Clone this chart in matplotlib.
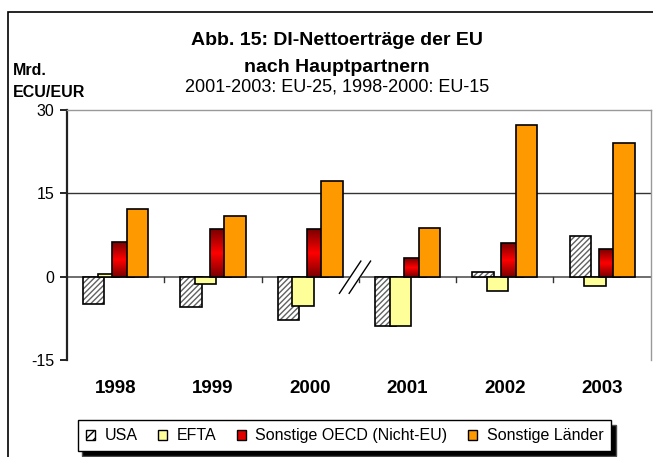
import numpy as np
import matplotlib.pyplot as plt
from matplotlib.patches import Rectangle
from matplotlib.colors import LinearSegmentedColormap

plt.rcParams['font.family'] = ['Liberation Sans', 'DejaVu Sans']

years = ['1998', '1999', '2000', '2001', '2002', '2003']
usa = [-5.0, -5.5, -7.8, -8.8, 0.8, 7.3]
efta = [0.5, -1.3, -5.3, -8.8, -2.6, -1.6]
oecd = [6.3, 8.6, 8.6, 3.4, 6.0, 4.9]
other = [12.2, 11.0, 17.3, 8.8, 27.3, 24.1]
labels = ['USA', 'EFTA', 'Sonstige OECD (Nicht-EU)', 'Sonstige Länder']

fig = plt.figure(figsize=(6.53, 4.57), dpi=100)
ax = fig.add_axes([0.1026, 0.2123, 0.894, 0.547])

x = np.arange(len(years))
w = 0.22
offs = [-0.225, -0.075, 0.075, 0.225]

# USA: grey hatch, black outline on top
ax.bar(x + offs[0], usa, w, color='white', edgecolor='#606060', hatch='//////',
       linewidth=0, zorder=2)
ax.bar(x + offs[0], usa, w, color='none', edgecolor='black', linewidth=1.2, zorder=2.1)
ax.bar(x + offs[1], efta, w, color='#FFFF99', edgecolor='black', linewidth=1.2, zorder=3)
b_oecd = ax.bar(x + offs[2], oecd, w, color='none', edgecolor='black', linewidth=1.2, zorder=4.5)
ax.bar(x + offs[3], other, w, color='#FF9900', edgecolor='black', linewidth=1.2, zorder=5)

# gradient fill for the red bars
cmap = LinearSegmentedColormap.from_list('redgrad', ['#7A0000', '#FF0000', '#7A0000'])
grad = np.linspace(0, 1, 100).reshape(-1, 1)
for bar in b_oecd:
    x0, y0 = bar.get_x(), bar.get_y()
    bw, bh = bar.get_width(), bar.get_height()
    im = ax.imshow(grad, cmap=cmap, aspect='auto', extent=[x0, x0 + bw, y0, y0 + bh],
                   zorder=4, origin='lower')
    im.set_clip_path(bar)

ax.set_xlim(-0.5, 5.5)
ax.set_ylim(-15, 30)
ax.set_yticks([-15, 0, 15, 30])
ax.set_yticklabels(['-15', '0', '15', '30'], fontsize=11.5)
ax.tick_params(axis='y', direction='out', length=5, width=1.2, pad=4)

ax.axhline(15, color='#333333', linewidth=1, zorder=1)
ax.axhline(0, color='#555555', linewidth=1.2, zorder=1)
ax.set_xticks([])
for b in np.arange(0.5, 5.5, 1):
    ax.plot([b, b], [0, -1.0], color='#333333', linewidth=1, zorder=1)

for s in ['top', 'right']:
    ax.spines[s].set_color('#999999')
    ax.spines[s].set_linewidth(1)
ax.spines['bottom'].set_visible(False)
ax.spines['left'].set_linewidth(1.6)
ax.spines['left'].set_color('#222222')

for xi, yr in zip(x, years):
    ax.text(xi, -20.9, yr, ha='center', va='baseline', fontsize=13.5, fontweight='bold')

# axis break marks
ax.fill([2.3, 2.4, 2.62, 2.52], [-3.0, -3.0, 2.8, 2.8], color='white', zorder=6)
ax.plot([2.3, 2.52], [-3.0, 2.8], color='black', linewidth=1, zorder=7)
ax.plot([2.4, 2.62], [-3.0, 2.8], color='black', linewidth=1, zorder=7)

fig.text(0.516, 0.9015, 'Abb. 15: DI-Nettoerträge der EU', ha='center', va='baseline',
         fontsize=14, fontweight='bold')
fig.text(0.516, 0.8425, 'nach Hauptpartnern', ha='center', va='baseline',
         fontsize=14, fontweight='bold')
fig.text(0.516, 0.7987, '2001-2003: EU-25, 1998-2000: EU-15', ha='center', va='baseline',
         fontsize=13)
fig.text(0.019, 0.836, 'Mrd.', ha='left', va='baseline', fontsize=11.5, fontweight='bold')
fig.text(0.019, 0.788, 'ECU/EUR', ha='left', va='baseline', fontsize=11.5, fontweight='bold')

# outer frame
fig.patches.append(Rectangle((0.0115, -0.05), 1.1, 1.024, transform=fig.transFigure,
                             fill=False, edgecolor='black', linewidth=1.2))

h_usa = Rectangle((0, 0), 1, 1, facecolor='white', edgecolor='black', hatch='////', linewidth=1)
h_efta = Rectangle((0, 0), 1, 1, facecolor='#FFFF99', edgecolor='black', linewidth=1)
h_oecd = Rectangle((0, 0), 1, 1, facecolor='#E00000', edgecolor='black', linewidth=1)
h_other = Rectangle((0, 0), 1, 1, facecolor='#FF9900', edgecolor='black', linewidth=1)
leg = fig.legend([h_usa, h_efta, h_oecd, h_other], labels,
                 loc='center', bbox_to_anchor=(0.528, 0.046), ncol=4, fontsize=11.5,
                 frameon=True, fancybox=False,
                 shadow={'ox': 3, 'oy': -3, 'facecolor': 'black', 'alpha': 1},
                 handlelength=0.55, handleheight=0.55, handletextpad=0.6,
                 columnspacing=1.3, borderpad=0.5)
leg.get_frame().set_edgecolor('black')
leg.get_frame().set_linewidth(1)
leg.get_frame().set_alpha(1)

fig.savefig('out.png', dpi=100)
